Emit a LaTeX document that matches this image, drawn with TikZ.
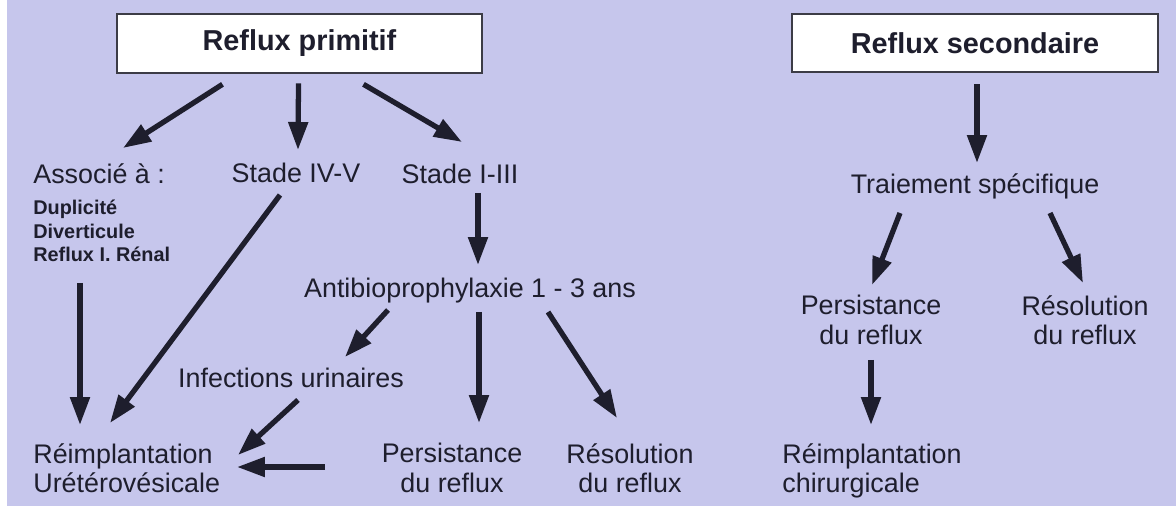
\documentclass[tikz,border=0pt]{standalone}
\usepackage{fontspec}
\setmainfont{Liberation Sans}
\usepackage{tikz}
\usetikzlibrary{arrows.meta,calc,positioning}
\definecolor{paper}{RGB}{198,198,236}
\definecolor{ink}{RGB}{30,30,45}
\definecolor{frame}{RGB}{60,60,70}

\begin{document}
\begin{tikzpicture}[x=0.02cm,y=-0.02cm,
  >={Triangle[length=0.56cm,width=0.38cm]},
  lbl/.style={inner sep=0pt,text=ink,font=\fontsize{15.3}{16.8}\selectfont},
  sub/.style={inner sep=0pt,text=ink,font=\fontsize{11.3}{13.3}\selectfont\bfseries},
  titlebox/.style={draw=frame,line width=1.5pt,fill=white,text=ink,
    minimum width=7.3cm,minimum height=1.18cm,
    font=\fontsize{16.4}{19}\selectfont\bfseries},
  flow/.style={->,line width=3pt,draw=ink}]
  % ---------------- page ----------------
  \useasboundingbox (0,0) rectangle (1176,506);
  \fill[white] (0,0) rectangle (1176,506);
  \fill[paper] (7,0) rectangle (1176,506);
  % ---------------- reflux primitif ----------------
  \node[titlebox] (prim) at (299.5,43.5) {Reflux primitif};
  \node[lbl,anchor=north west] (assoc) at (33,163) {Associé à :};
  \node[sub,anchor=north west,align=left] (assoclist) at (33,200)
     {Duplicité\\Diverticule\\Reflux I. Rénal};
  \node[lbl,anchor=north] (stadeV) at (296,163) {Stade IV-V};
  \node[lbl,anchor=north] (stadeI) at (460,164) {Stade I-III};
  \node[lbl,anchor=north] (antibio) at (470,278) {Antibioprophylaxie 1 - 3 ans};
  \node[lbl,anchor=north] (infect) at (291,368) {Infections urinaires};
  \node[lbl,anchor=north west,align=left] (reimpl) at (33,443)
     {Réimplantation\\Urétérovésicale};
  \node[lbl,anchor=north,align=center] (persist) at (452,443) {Persistance\\du reflux};
  \node[lbl,anchor=north,align=center] (resol) at (630,443) {Résolution\\du reflux};
  \draw[flow] ($(prim.south)+(-77,10)$) -- ($(assoc.north west)+(90,-15)$);
  \draw[flow] ($(prim.south)+(-1,9)$) -- ($(stadeV.north)+(2,-13)$);
  \draw[flow] ($(prim.south)+(64,10)$) -- ($(stadeI.north)+(2,-22)$);
  \draw[flow] ($(assoclist.north west)+(47,83)$) -- ($(reimpl.north west)+(47,-18)$);
  \draw[flow] ($(stadeV.north)+(-16,32)$) -- ($(reimpl.north west)+(77,-20)$);
  \draw[flow] ($(stadeI.north)+(18,29)$) -- ($(antibio.north)+(8,-13)$);
  \draw[flow] ($(antibio.north)+(-82,32)$) -- ($(infect.north)+(54,-11)$);
  \draw[flow] ($(antibio.north)+(9,34)$) -- ($(persist.north)+(27,-20)$);
  \draw[flow] ($(antibio.north)+(78,34)$) -- ($(resol.north)+(-13,-25)$);
  \draw[flow] ($(infect.north)+(7,32)$) -- ($(reimpl.north west)+(205,12)$);
  \draw[flow] ($(persist.north)+(-127,24)$) -- ($(reimpl.north west)+(204,24)$);
  % ---------------- reflux secondaire ----------------
  \node[titlebox,minimum width=7.32cm,minimum height=1.16cm] (sec) at (975,43) {Reflux secondaire};
  \node[lbl,anchor=north] (traite) at (975,173) {Traiement spécifique};
  \node[lbl,anchor=north,align=center] (persistB) at (871,295) {Persistance\\du reflux};
  \node[lbl,anchor=north,align=center] (resolB) at (1085,295) {Résolution\\du reflux};
  \node[lbl,anchor=north west,align=left] (reimplB) at (782,443)
     {Réimplantation\\chirurgicale};
  \draw[flow] ($(sec.south)+(2,11)$) -- ($(traite.north)+(2,-10)$);
  \draw[flow] ($(traite.north)+(-75,40)$) -- ($(persistB.north)+(1,-10)$);
  \draw[flow] ($(traite.north)+(75,40)$) -- ($(resolB.north)+(-2,-12)$);
  \draw[flow] ($(persistB.north)+(0,65)$) -- ($(reimplB.north west)+(89,-18)$);
\end{tikzpicture}
\end{document}
